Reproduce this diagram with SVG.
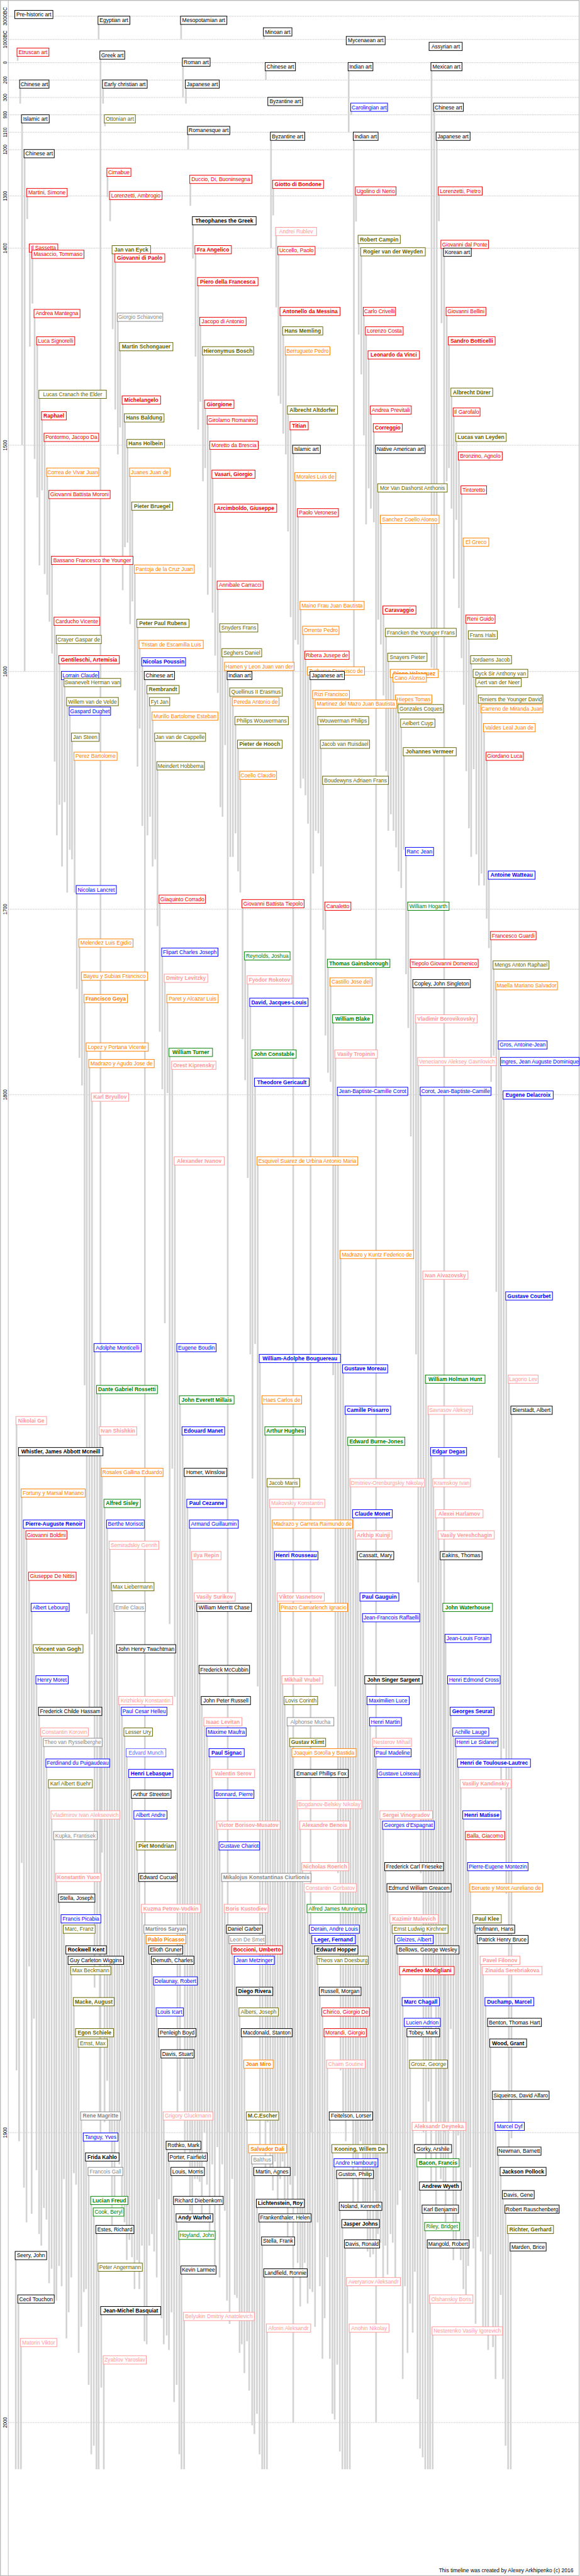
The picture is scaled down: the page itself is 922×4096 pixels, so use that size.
<svg xmlns="http://www.w3.org/2000/svg" width="922" height="4096" viewBox="0 0 922 4096">
<style>
#nodes{color:#000}
#nodes rect{fill:#fff;stroke:currentColor;stroke-width:1.5}
#nodes text{font-family:"Liberation Sans",Arial,sans-serif;font-size:13px;text-anchor:middle;fill:currentColor}
#nodes .B text{font-weight:700}
.r{color:#e00}.o{color:#666600}.b{color:#00f}.a{color:#ff8000}.p{color:#f99}.g{color:#888}.e{color:#008000}.m{color:#66f}
.ax{font-family:"Liberation Sans",Arial,sans-serif;font-size:15px;text-anchor:middle;fill:#000}
.ft{font-family:"Liberation Sans",Arial,sans-serif;font-size:13px;text-anchor:end;fill:#000}
</style>
<rect width="922" height="4096" fill="#fff"/>
<g transform="scale(0.65855)">
<rect x="1" y="1" width="1397" height="6218" fill="none" stroke="#bbb" stroke-width="2"/>
<path d="M20 0V6220" stroke="#bbb" stroke-width="1.5"/>
<g id="grid">
<path d="M20 39.3H1397M20 95.3H1397M20 151.3H1397M20 193.3H1397M20 235.3H1397M20 277.3H1397M20 319.3H1397M20 361.3H1397M20 473.3H1397M20 599.3H1397M20 1075H1397M20 1621.3H1397M20 2195.3H1397M20 2643.3H1397M20 5149.3H1397M20 5849.3H1397" stroke="#999" stroke-width="1" stroke-dasharray="2 2" fill="none"/>
<text class="ax" transform="translate(16 39.3) rotate(-90)" textLength="45" lengthAdjust="spacingAndGlyphs">3000BC</text>
<text class="ax" transform="translate(16 95.3) rotate(-90)" textLength="43" lengthAdjust="spacingAndGlyphs">1000BC</text>
<text class="ax" transform="translate(16 151.3) rotate(-90)" textLength="6" lengthAdjust="spacingAndGlyphs">0</text>
<text class="ax" transform="translate(16 193.3) rotate(-90)" textLength="18" lengthAdjust="spacingAndGlyphs">200</text>
<text class="ax" transform="translate(16 235.3) rotate(-90)" textLength="18" lengthAdjust="spacingAndGlyphs">300</text>
<text class="ax" transform="translate(16 277.3) rotate(-90)" textLength="18" lengthAdjust="spacingAndGlyphs">900</text>
<text class="ax" transform="translate(16 319.3) rotate(-90)" textLength="24" lengthAdjust="spacingAndGlyphs">1100</text>
<text class="ax" transform="translate(16 361.3) rotate(-90)" textLength="24" lengthAdjust="spacingAndGlyphs">1200</text>
<text class="ax" transform="translate(16 473.3) rotate(-90)" textLength="24" lengthAdjust="spacingAndGlyphs">1300</text>
<text class="ax" transform="translate(16 599.3) rotate(-90)" textLength="25" lengthAdjust="spacingAndGlyphs">1400</text>
<text class="ax" transform="translate(16 1075) rotate(-90)" textLength="26" lengthAdjust="spacingAndGlyphs">1500</text>
<text class="ax" transform="translate(16 1621.3) rotate(-90)" textLength="26" lengthAdjust="spacingAndGlyphs">1600</text>
<text class="ax" transform="translate(16 2195.3) rotate(-90)" textLength="26" lengthAdjust="spacingAndGlyphs">1700</text>
<text class="ax" transform="translate(16 2643.3) rotate(-90)" textLength="26" lengthAdjust="spacingAndGlyphs">1800</text>
<text class="ax" transform="translate(16 5149.3) rotate(-90)" textLength="26" lengthAdjust="spacingAndGlyphs">1900</text>
<text class="ax" transform="translate(16 5849.3) rotate(-90)" textLength="26" lengthAdjust="spacingAndGlyphs">2000</text>
</g>
<g id="lifespans">
<path fill="none" stroke="#d3d3d3" stroke-width="4" d="M238.1 39V95M437.2 39V95M637.2 67V95M1037.3 102V123M42.6 116V147M242.6 123V5149M441.7 140V235M641.7 151V193M841.7 151V319M1041.7 151V1612M48.8 193V250M248.8 193V250M448.8 193V250M848 249V277M1048 249V1615M53.3 277V1075M253.3 277V305M454.2 305V361M654.2 319V599M854.2 319V1621M1054.2 319V1617M59.5 361V1621M259.5 406V476M459.5 423V497M659.5 435V520M65.8 455V529M859.5 451V535M1059.5 451V534M265.8 462V534M465.8 523V624M666.7 549V742M865.8 568V808M1065.8 580V780M72 589V837M272 593V795M472 593V861M672.1 595V956M872.1 598V904M1072.1 599V5149M78.3 604V733M278.3 613V989M478.3 670V1037M677.4 742V975M878.3 742V1051M1078.3 742V1162M83.6 747V1108M284.5 756V1097M483.6 766V970M683.7 789V1047M883.7 789V1266M89.9 813V1201M1083.7 813V1130M289.9 827V1032M489.9 837V1162M689.9 837V1097M889.9 847V1179M1089.9 937V1228M95.3 942V1365M296.2 956V1425M495.3 966V1130M695.3 980V1283M895.3 980V1228M1095.3 985V1397M101.5 994V1184M301.5 999V1321M501.5 1004V1436M701.5 1018V1490M902.5 1023V1261M1101.5 1046V1255M107.8 1046V1386M307.8 1061V1310M507.8 1065V1370M707.8 1075V5849M907.8 1075V5849M1107.8 1091V1468M114 1130V1436M314 1130V1507M513.1 1135V1479M713.1 1141V1545M913.1 1168V1496M1114.1 1173V1589M119.4 1184V1501M319.4 1212V1452M519.4 1217V1583M719.4 1228V1556M919.4 1244V1556M1119.4 1299V1702M125.6 1343V1578M325.6 1364V1667M525.6 1403V1673M725.6 1452V1903M925.6 1463V1679M1125.6 1485V1862M131.9 1490V1839M331.9 1495V1851M531.9 1506V1949M731.9 1512V1880M931.9 1517V1862M1131.9 1523V2000M137.2 1534V2017M337.2 1546V1759M537.2 1566V1972M737.3 1572V1920M937.3 1577V2006M1137.3 1583V2069M143.5 1583V1943M343.5 1588V1994M543.5 1599V1799M743.5 1610V1989M943.5 1616V1966M1143.5 1616V1857M149.7 1621V2092M349.7 1621V5149M549.7 1621V5149M749.8 1621V5149M949.8 1627V2006M1149.8 1638V2063M156 1638V1937M356 1655V2017M556 1661V2069M756 1667V2109M956 1678V2046M1156 1678V2138M162.2 1684V2155M362.2 1684V1972M562.2 1684V2069M762.2 1690V2006M962.2 1701V2104M1162.2 1701V2109M168.5 1707V2052M368.5 1719V2092M568.5 1730V2012M768.5 1730V2012M968.5 1736V2144M1168.5 1747V2138M173.8 1770V2075M374.7 1770V2075M574.7 1787V2104M774.7 1787V2092M974.8 1805V2052M180.1 1816V2155M1174.8 1816V2218M380.1 1839V2236M580.1 1862V2155M780.1 1874V2245M980.1 2046V2352M1180.1 2103V2289M185.4 2138V2388M385.5 2161V2491M585.5 2172V2509M785.5 2178V2500M985.5 2178V2482M1185.5 2249V2612M191.7 2267V2554M391.7 2289V2630M591.7 2298V2608M791.7 2316V2590M991.7 2316V2744M1191.7 2320V2549M197.9 2347V2621M397.9 2352V3195M598 2356V2844M798 2361V2612M998 2365V3019M1198 2370V3119M204.2 2401V3345M404.2 2401V2639M604.2 2410V3270M804.2 2450V3320M1004.2 2450V3270M1204.2 2513V3520M209.5 2518V3896M409.5 2531V3921M609.5 2535V3570M809.6 2535V4072M1009.6 2553V3821M1209.6 2553V4322M215.8 2558V4122M415.8 2562V3546M615.8 2603V3245M815.8 2625V4523M1015.8 2625V4523M1215.8 2634V4222M222 2639V3946M422 2793V4097M622.1 2793V4072M822.1 3019V4999M1022.1 3069V5149M1222.1 3119V4573M228.3 3244V4799M428.3 3244V5099M627.4 3270V5184M828.3 3295V5099M1028.3 3320V5219M1228.4 3320V5184M234.5 3345V4698M434.5 3370V5049M633.7 3370V5099M834.6 3395V5170M1034.6 3395V5074M1234.6 3395V5163M39.9 3420V4999M240.8 3445V5099M440.8 3445V4723M640.8 3445V5254M840.8 3470V5099M46.1 3495V5170M1040.8 3495V5268M246.1 3545V4473M446.2 3545V5219M646.2 3570V5124M846.2 3570V5099M1046.2 3570V4824M52.4 3595V4498M252.4 3620V5124M452.4 3620V5191M652.4 3620V5254M852.5 3645V5331M1052.5 3645V5324M57.8 3670V5282M258.7 3670V5024M458.7 3670V5338M658.7 3670V5289M858.7 3696V5219M1058.7 3696V5177M64 3696V5366M264.9 3721V5163M464 3746V5359M664 3746V5219M864 3746V5331M1064.1 3746V5261M70.3 3796V4748M270.3 3821V5394M470.3 3846V5261M670.3 3846V5331M870.3 3846V5170M76.5 3871V5345M276.5 3871V5317M476.5 3871V5261M676.5 3871V5261M1070.3 3871V5268M876.5 3896V5317M1075.6 3946V5366M81.9 3971V4874M282.8 3971V5163M481.9 4021V5268M88.1 4046V5240M681.9 4046V5219M881.9 4046V5324M1081.9 4046V5219M288.1 4096V5226M487.2 4096V5359M687.2 4096V5324M887.3 4096V5436M94.4 4122V5394M294.4 4122V5338M1088.2 4122V4899M493.5 4147V5149M694.4 4147V5422M893.5 4147V5450M99.7 4172V5422M300.6 4172V5366M499.7 4172V5275M1094.4 4172V5457M106 4197V5331M700.6 4197V5275M900.7 4197V5443M1100.7 4197V5422M306 4222V5457M506 4222V5394M706 4222V5310M906 4222V5289M112.2 4247V5359M1106 4247V5156M312.2 4272V5408M512.2 4272V5226M712.2 4272V5254M912.2 4272V5394M118.5 4297V5513M1112.2 4297V5457M318.5 4322V5450M518.5 4322V5478M718.5 4347V5464M124.7 4372V5478M324.7 4372V5527M918.5 4372V5415M1118.5 4372V5527M524.7 4397V5184M724.7 4397V5569M924.8 4397V5499M131 4422V5548M1124.8 4422V5555M331 4447V5457M530.1 4447V5499M730.1 4497V5478M930.1 4497V5422M1130.1 4497V5471M136.3 4523V5555M336.3 4523V5527M536.3 4523V5226M735.5 4548V5464M935.5 4548V5492M1135.5 4548V5233M142.6 4573V5471M342.6 4598V5422M542.6 4598V5338M742.6 4598V5562M148.8 4623V5520M942.6 4623V5394M1142.6 4623V5429M154.2 4648V5261M348.8 4648V5653M548 4648V5555M748 4648V5527M948 4648V5415M1148 4648V5611M354.2 4673V5660M554.2 4673V5611M754.2 4673V5534M954.2 4673V5520M1153.4 4673V5401M160.4 4698V5646M360.4 4698V5422M560.5 4698V5261M760.5 4698V5618M959.6 4698V5324M165.8 4723V5583M366.7 4723V5394M566.7 4723V5541M766.7 4723V5366M1160.5 4723V5436M172 4748V5499M965.8 4748V5289M1165.9 4748V5618M372.1 4773V5436M572.1 4798V5548M772.1 4798V5520M178.3 4823V5247M972.1 4823V5744M1172.1 4823V5625M378.3 4848V5499M578.3 4848V5681M778.3 4848V5695M977.5 4873V5520M1178.4 4873V5674M183.7 4898V5275M383.7 4898V5310M583.7 4898V5660M783.7 4898V5597M983.7 4898V5681M189.9 4923V5681M1183.7 4923V5443M389.9 4949V5597M589.9 4974V5730M789.9 4974V5450M989.9 4974V5562M1190 5049V5667M196.1 5099V5618M395.3 5099V5660M596.2 5099V5653M796.2 5099V5695M996.2 5124V5632M1196.2 5124V5744M202.4 5150V5534M402.4 5170V5639M601.5 5178V5772M802.4 5178V5828M1001.5 5178V5485M1202.5 5184V5639M207.8 5198V5527M407.8 5198V5674M608.7 5205V5856M807.8 5212V5842M1007.8 5212V5793M214 5233V5758M414 5233V5583M614 5233V5877M1208.7 5233V5541M814 5240V5709M1014 5268V5912M1214 5289V5744M220.3 5303V5926M420.3 5303V5800M620.3 5310V5828M820.3 5317V5919M1020.3 5324V5933M1220.3 5324V5905M226.5 5331V5905M426.5 5345V5758M626.5 5345V5926M826.5 5359V5962M1026.5 5366V5962M1226.5 5373V5962M232.8 5373V5962M432.8 5387V5926M632.8 5401V5962M832.8 5408V5962M1032.8 5408V5962M1232.8 5415V5962M38.1 5436V5962M238.1 5464V5962M438.1 5471V5962M638.1 5478V5962M838.1 5499V5962M1038.1 5541V5962M44.4 5541V5962M244.4 5569V5765M444.4 5583V5962M644.4 5611V5962M844.4 5611V5962M1044.4 5618V5962M50.6 5646V5962M250.6 5688V5962"/>
</g>
<g id="nodes">
<g id="n1" transform="translate(35.7 25)"><rect width="92" height="20"/><text x="46" y="14.5">Pre-historic art</text></g>
<g id="n2" transform="translate(236.6 39)"><rect width="77" height="20"/><text x="38.5" y="14.5">Egyptian art</text></g>
<g id="n3" transform="translate(435.7 39)"><rect width="112" height="20"/><text x="56" y="14.5">Mesopotamian art</text></g>
<g id="n4" transform="translate(635.7 67)"><rect width="69" height="20"/><text x="34.5" y="14.5">Minoan art</text></g>
<g id="n5" transform="translate(835.7 88)"><rect width="94" height="20"/><text x="47" y="14.5">Mycenaean art</text></g>
<g id="n6" transform="translate(1035.8 102)"><rect width="80" height="20"/><text x="40" y="14.5">Assyrian art</text></g>
<g id="n7" class="r" transform="translate(41.1 116)"><rect width="77" height="20"/><text x="38.5" y="14.5">Etruscan art</text></g>
<g id="n8" transform="translate(241.1 123)"><rect width="60" height="20"/><text x="30" y="14.5">Greek art</text></g>
<g id="n9" transform="translate(440.2 140)"><rect width="67" height="20"/><text x="33.5" y="14.5">Roman art</text></g>
<g id="n10" transform="translate(640.2 151)"><rect width="73" height="20"/><text x="36.5" y="14.5">Chinese art</text></g>
<g id="n11" transform="translate(840.2 151)"><rect width="60" height="20"/><text x="30" y="14.5">Indian art</text></g>
<g id="n12" transform="translate(1040.2 151)"><rect width="75" height="20"/><text x="37.5" y="14.5">Mexican art</text></g>
<g id="n13" transform="translate(47.3 193)"><rect width="71" height="20"/><text x="35.5" y="14.5">Chinese art</text></g>
<g id="n14" transform="translate(247.3 193)"><rect width="108" height="20"/><text x="54" y="14.5">Early christian art</text></g>
<g id="n15" transform="translate(447.3 193)"><rect width="82" height="20"/><text x="41" y="14.5">Japanese art</text></g>
<g id="n16" transform="translate(646.5 235)"><rect width="84" height="20"/><text x="42" y="14.5">Byzantine art</text></g>
<g id="n17" class="b" transform="translate(846.5 249)"><rect width="89" height="20"/><text x="44.5" y="14.5">Carolingian art</text></g>
<g id="n18" transform="translate(1046.5 249)"><rect width="72" height="20"/><text x="36" y="14.5">Chinese art</text></g>
<g id="n19" transform="translate(51.8 277)"><rect width="67" height="20"/><text x="33.5" y="14.5">Islamic art</text></g>
<g id="n20" class="o" transform="translate(251.8 277)"><rect width="75" height="20"/><text x="37.5" y="14.5">Ottonian art</text></g>
<g id="n21" transform="translate(452.7 305)"><rect width="102" height="20"/><text x="51" y="14.5">Romanesque art</text></g>
<g id="n22" transform="translate(652.7 319)"><rect width="83" height="20"/><text x="41.5" y="14.5">Byzantine art</text></g>
<g id="n23" transform="translate(852.7 319)"><rect width="60" height="20"/><text x="30" y="14.5">Indian art</text></g>
<g id="n24" transform="translate(1052.7 319)"><rect width="82" height="20"/><text x="41" y="14.5">Japanese art</text></g>
<g id="n25" transform="translate(58 361)"><rect width="73" height="20"/><text x="36.5" y="14.5">Chinese art</text></g>
<g id="n26" class="r" transform="translate(258 406)"><rect width="58" height="20"/><text x="29" y="14.5">Cimabue</text></g>
<g id="n27" class="r" transform="translate(458 423)"><rect width="150" height="20"/><text x="75" y="14.5">Duccio, Di, Buoninsegna</text></g>
<g id="n28" class="r B" transform="translate(658 435)"><rect width="123" height="20"/><text x="61.5" y="14.5">Giotto di Bondone</text></g>
<g id="n29" class="r" transform="translate(858 451)"><rect width="98" height="20"/><text x="49" y="14.5">Ugolino di Nerio</text></g>
<g id="n30" class="r" transform="translate(1058 451)"><rect width="106" height="20"/><text x="53" y="14.5">Lorenzetti, Pietro</text></g>
<g id="n31" class="r" transform="translate(64.3 455)"><rect width="98" height="20"/><text x="49" y="14.5">Martini, Simone</text></g>
<g id="n32" class="r" transform="translate(264.3 462)"><rect width="127" height="20"/><text x="63.5" y="14.5">Lorenzetti, Ambrogio</text></g>
<g id="n33" class="B" transform="translate(464.3 523)"><rect width="154" height="20"/><text x="77" y="14.5">Theophanes the Greek</text></g>
<g id="n34" class="p" transform="translate(665.2 549)"><rect width="99" height="20"/><text x="49.5" y="14.5">Andrei Rublev</text></g>
<g id="n35" class="o B" transform="translate(864.3 568)"><rect width="102" height="20"/><text x="51" y="14.5">Robert Campin</text></g>
<g id="n36" class="r" transform="translate(1064.3 580)"><rect width="115" height="20"/><text x="57.5" y="14.5">Giovanni dal Ponte</text></g>
<g id="n37" class="r" transform="translate(70.5 589)"><rect width="69" height="20"/><text x="34.5" y="14.5">Il Sassetta</text></g>
<g id="n38" class="o B" transform="translate(270.5 593)"><rect width="93" height="20"/><text x="46.5" y="14.5">Jan van Eyck</text></g>
<g id="n39" class="r B" transform="translate(470.5 593)"><rect width="88" height="20"/><text x="44" y="14.5">Fra Angelico</text></g>
<g id="n40" class="r" transform="translate(670.6 595)"><rect width="90" height="20"/><text x="45" y="14.5">Uccello, Paolo</text></g>
<g id="n41" class="o B" transform="translate(870.6 598)"><rect width="156" height="20"/><text x="78" y="14.5">Rogier van der Weyden</text></g>
<g id="n42" transform="translate(1070.6 599)"><rect width="67" height="20"/><text x="33.5" y="14.5">Korean art</text></g>
<g id="n43" class="r" transform="translate(76.8 604)"><rect width="126" height="20"/><text x="63" y="14.5">Masaccio, Tommaso</text></g>
<g id="n44" class="r B" transform="translate(276.8 613)"><rect width="121" height="20"/><text x="60.5" y="14.5">Giovanni di Paolo</text></g>
<g id="n45" class="r B" transform="translate(476.8 670)"><rect width="146" height="20"/><text x="73" y="14.5">Piero della Francesca</text></g>
<g id="n46" class="r B" transform="translate(675.9 742)"><rect width="145" height="20"/><text x="72.5" y="14.5">Antonello da Messina</text></g>
<g id="n47" class="r" transform="translate(876.8 742)"><rect width="78" height="20"/><text x="39" y="14.5">Carlo Crivelli</text></g>
<g id="n48" class="r" transform="translate(1076.8 742)"><rect width="96" height="20"/><text x="48" y="14.5">Giovanni Bellini</text></g>
<g id="n49" class="r" transform="translate(82.1 747)"><rect width="111" height="20"/><text x="55.5" y="14.5">Andrea Mantegna</text></g>
<g id="n50" class="g" transform="translate(283 756)"><rect width="110" height="20"/><text x="55" y="14.5">Giorgio Schiavone</text></g>
<g id="n51" class="r" transform="translate(482.1 766)"><rect width="112" height="20"/><text x="56" y="14.5">Jacopo di Antonio</text></g>
<g id="n52" class="o B" transform="translate(682.2 789)"><rect width="97" height="20"/><text x="48.5" y="14.5">Hans Memling</text></g>
<g id="n53" class="r" transform="translate(882.2 789)"><rect width="91" height="20"/><text x="45.5" y="14.5">Lorenzo Costa</text></g>
<g id="n54" class="r" transform="translate(88.4 813)"><rect width="92" height="20"/><text x="46" y="14.5">Luca Signorelli</text></g>
<g id="n55" class="r B" transform="translate(1082.2 813)"><rect width="113" height="20"/><text x="56.5" y="14.5">Sandro Botticelli</text></g>
<g id="n56" class="o B" transform="translate(288.4 827)"><rect width="129" height="20"/><text x="64.5" y="14.5">Martin Schongauer</text></g>
<g id="n57" class="o B" transform="translate(488.4 837)"><rect width="124" height="20"/><text x="62" y="14.5">Hieronymus Bosch</text></g>
<g id="n58" class="a" transform="translate(688.4 837)"><rect width="108" height="20"/><text x="54" y="14.5">Berruguete Pedro</text></g>
<g id="n59" class="r B" transform="translate(888.4 847)"><rect width="124" height="20"/><text x="62" y="14.5">Leonardo da Vinci</text></g>
<g id="n60" class="o B" transform="translate(1088.4 937)"><rect width="101" height="20"/><text x="50.5" y="14.5">Albrecht Dürer</text></g>
<g id="n61" class="o" transform="translate(93.8 942)"><rect width="163" height="20"/><text x="81.5" y="14.5">Lucas Cranach the Elder</text></g>
<g id="n62" class="r B" transform="translate(294.7 956)"><rect width="93" height="20"/><text x="46.5" y="14.5">Michelangelo</text></g>
<g id="n63" class="r B" transform="translate(493.8 966)"><rect width="71" height="20"/><text x="35.5" y="14.5">Giorgione</text></g>
<g id="n64" class="o B" transform="translate(693.8 980)"><rect width="121" height="20"/><text x="60.5" y="14.5">Albrecht Altdorfer</text></g>
<g id="n65" class="r" transform="translate(893.8 980)"><rect width="99" height="20"/><text x="49.5" y="14.5">Andrea Previtali</text></g>
<g id="n66" class="r" transform="translate(1093.8 985)"><rect width="65" height="20"/><text x="32.5" y="14.5">Il Garofalo</text></g>
<g id="n67" class="r B" transform="translate(100 994)"><rect width="60" height="20"/><text x="30" y="14.5">Raphael</text></g>
<g id="n68" class="o B" transform="translate(300 999)"><rect width="96" height="20"/><text x="48" y="14.5">Hans Baldung</text></g>
<g id="n69" class="r" transform="translate(500 1004)"><rect width="121" height="20"/><text x="60.5" y="14.5">Girolamo Romanino</text></g>
<g id="n70" class="r B" transform="translate(700 1018)"><rect width="44" height="20"/><text x="22" y="14.5">Titian</text></g>
<g id="n71" class="r B" transform="translate(901 1023)"><rect width="70" height="20"/><text x="35" y="14.5">Correggio</text></g>
<g id="n72" class="o B" transform="translate(1100 1046)"><rect width="122" height="20"/><text x="61" y="14.5">Lucas van Leyden</text></g>
<g id="n73" class="r" transform="translate(106.3 1046)"><rect width="132" height="20"/><text x="66" y="14.5">Pontormo, Jacopo Da</text></g>
<g id="n74" class="o B" transform="translate(306.3 1061)"><rect width="91" height="20"/><text x="45.5" y="14.5">Hans Holbein</text></g>
<g id="n75" class="r" transform="translate(506.3 1065)"><rect width="117" height="20"/><text x="58.5" y="14.5">Moretto da Brescia</text></g>
<g id="n76" transform="translate(706.3 1075)"><rect width="67" height="20"/><text x="33.5" y="14.5">Islamic art</text></g>
<g id="n77" transform="translate(906.3 1075)"><rect width="120" height="20"/><text x="60" y="14.5">Native American art</text></g>
<g id="n78" class="r" transform="translate(1106.3 1091)"><rect width="106" height="20"/><text x="53" y="14.5">Bronzino, Agnolo</text></g>
<g id="n79" class="a" transform="translate(112.5 1130)"><rect width="126" height="20"/><text x="63" y="14.5">Correa de Vivar Juan</text></g>
<g id="n80" class="a" transform="translate(312.5 1130)"><rect width="98" height="20"/><text x="49" y="14.5">Juanes Juan de</text></g>
<g id="n81" class="r B" transform="translate(511.6 1135)"><rect width="104" height="20"/><text x="52" y="14.5">Vasari, Giorgio</text></g>
<g id="n82" class="a" transform="translate(711.6 1141)"><rect width="99" height="20"/><text x="49.5" y="14.5">Morales Luis de</text></g>
<g id="n83" class="o" transform="translate(911.6 1168)"><rect width="168" height="20"/><text x="84" y="14.5">Mor Van Dashorst Anthonis</text></g>
<g id="n84" class="r" transform="translate(1112.6 1173)"><rect width="62" height="20"/><text x="31" y="14.5">Tintoretto</text></g>
<g id="n85" class="r" transform="translate(117.9 1184)"><rect width="148" height="20"/><text x="74" y="14.5">Giovanni Battista Moroni</text></g>
<g id="n86" class="o B" transform="translate(317.9 1212)"><rect width="99" height="20"/><text x="49.5" y="14.5">Pieter Bruegel</text></g>
<g id="n87" class="r B" transform="translate(517.9 1217)"><rect width="150" height="20"/><text x="75" y="14.5">Arcimboldo, Giuseppe</text></g>
<g id="n88" class="r" transform="translate(717.9 1228)"><rect width="99" height="20"/><text x="49.5" y="14.5">Paolo Veronese</text></g>
<g id="n89" class="a" transform="translate(917.9 1244)"><rect width="142" height="20"/><text x="71" y="14.5">Sanchez Coello Alonso</text></g>
<g id="n90" class="a" transform="translate(1117.9 1299)"><rect width="62" height="20"/><text x="31" y="14.5">El Greco</text></g>
<g id="n91" class="r" transform="translate(124.1 1343)"><rect width="197" height="20"/><text x="98.5" y="14.5">Bassano Francesco the Younger</text></g>
<g id="n92" class="a" transform="translate(324.1 1364)"><rect width="145" height="20"/><text x="72.5" y="14.5">Pantoja de la Cruz Juan</text></g>
<g id="n93" class="r" transform="translate(524.1 1403)"><rect width="111" height="20"/><text x="55.5" y="14.5">Annibale Carracci</text></g>
<g id="n94" class="a" transform="translate(724.1 1452)"><rect width="155" height="20"/><text x="77.5" y="14.5">Maino Frau Juan Bautista</text></g>
<g id="n95" class="r B" transform="translate(924.1 1463)"><rect width="80" height="20"/><text x="40" y="14.5">Caravaggio</text></g>
<g id="n96" class="r" transform="translate(1124.1 1485)"><rect width="71" height="20"/><text x="35.5" y="14.5">Reni Guido</text></g>
<g id="n97" class="r" transform="translate(130.4 1490)"><rect width="110" height="20"/><text x="55" y="14.5">Carducho Vicente</text></g>
<g id="n98" class="o B" transform="translate(330.4 1495)"><rect width="126" height="20"/><text x="63" y="14.5">Peter Paul Rubens</text></g>
<g id="n99" class="o" transform="translate(530.4 1506)"><rect width="92" height="20"/><text x="46" y="14.5">Snyders Frans</text></g>
<g id="n100" class="a" transform="translate(730.4 1512)"><rect width="88" height="20"/><text x="44" y="14.5">Orrente Pedro</text></g>
<g id="n101" class="o" transform="translate(930.4 1517)"><rect width="171" height="20"/><text x="85.5" y="14.5">Francken the Younger Frans</text></g>
<g id="n102" class="o" transform="translate(1130.4 1523)"><rect width="70" height="20"/><text x="35" y="14.5">Frans Hals</text></g>
<g id="n103" class="o" transform="translate(135.7 1534)"><rect width="109" height="20"/><text x="54.5" y="14.5">Crayer Gaspar de</text></g>
<g id="n104" class="a" transform="translate(335.7 1546)"><rect width="155" height="20"/><text x="77.5" y="14.5">Tristan de Escamilla Luis</text></g>
<g id="n105" class="o" transform="translate(535.7 1566)"><rect width="96" height="20"/><text x="48" y="14.5">Seghers Daniel</text></g>
<g id="n106" class="r" transform="translate(735.8 1572)"><rect width="107" height="20"/><text x="53.5" y="14.5">Ribera Jusepe de</text></g>
<g id="n107" class="o" transform="translate(935.8 1577)"><rect width="95" height="20"/><text x="47.5" y="14.5">Snayers Pieter</text></g>
<g id="n108" class="o" transform="translate(1135.8 1583)"><rect width="99" height="20"/><text x="49.5" y="14.5">Jordaens Jacob</text></g>
<g id="n109" class="r B" transform="translate(142 1583)"><rect width="146" height="20"/><text x="73" y="14.5">Gentileschi, Artemisia</text></g>
<g id="n110" class="b B" transform="translate(342 1588)"><rect width="106" height="20"/><text x="53" y="14.5">Nicolas Poussin</text></g>
<g id="n111" class="a" transform="translate(542 1599)"><rect width="168" height="20"/><text x="84" y="14.5">Hamen y Leon Juan van der</text></g>
<g id="n112" class="a" transform="translate(742 1610)"><rect width="138" height="20"/><text x="69" y="14.5">Zurbaran Francisco de</text></g>
<g id="n113" class="a B" transform="translate(942 1616)"><rect width="116" height="20"/><text x="58" y="14.5">Diego Velazquez</text></g>
<g id="n114" class="o" transform="translate(1142 1616)"><rect width="132" height="20"/><text x="66" y="14.5">Dyck Sir Anthony van</text></g>
<g id="n115" class="b" transform="translate(148.2 1621)"><rect width="90" height="20"/><text x="45" y="14.5">Lorrain Claude</text></g>
<g id="n116" transform="translate(348.2 1621)"><rect width="73" height="20"/><text x="36.5" y="14.5">Chinese art</text></g>
<g id="n117" transform="translate(548.2 1621)"><rect width="60" height="20"/><text x="30" y="14.5">Indian art</text></g>
<g id="n118" transform="translate(748.3 1621)"><rect width="83" height="20"/><text x="41.5" y="14.5">Japanese art</text></g>
<g id="n119" class="a" transform="translate(948.3 1627)"><rect width="81" height="20"/><text x="40.5" y="14.5">Cano Alonso</text></g>
<g id="n120" class="o" transform="translate(1148.3 1638)"><rect width="110" height="20"/><text x="55" y="14.5">Aert van der Neer</text></g>
<g id="n121" class="o" transform="translate(154.5 1638)"><rect width="137" height="20"/><text x="68.5" y="14.5">Swanevelt Herman van</text></g>
<g id="n122" class="o B" transform="translate(354.5 1655)"><rect width="78" height="20"/><text x="39" y="14.5">Rembrandt</text></g>
<g id="n123" class="o" transform="translate(554.5 1661)"><rect width="127" height="20"/><text x="63.5" y="14.5">Quellinus II Erasmus</text></g>
<g id="n124" class="a" transform="translate(754.5 1667)"><rect width="89" height="20"/><text x="44.5" y="14.5">Rizi Francisco</text></g>
<g id="n125" class="a" transform="translate(954.5 1678)"><rect width="88" height="20"/><text x="44" y="14.5">Hiepes Tomas</text></g>
<g id="n126" class="o" transform="translate(1154.5 1678)"><rect width="156" height="20"/><text x="78" y="14.5">Teniers the Younger David</text></g>
<g id="n127" class="o" transform="translate(160.7 1684)"><rect width="125" height="20"/><text x="62.5" y="14.5">Willem van de Velde</text></g>
<g id="n128" class="o" transform="translate(360.7 1684)"><rect width="49" height="20"/><text x="24.5" y="14.5">Fyt Jan</text></g>
<g id="n129" class="a" transform="translate(560.7 1684)"><rect width="113" height="20"/><text x="56.5" y="14.5">Pereda Antonio de</text></g>
<g id="n130" class="a" transform="translate(760.7 1690)"><rect width="197" height="20"/><text x="98.5" y="14.5">Martinez del Mazo Juan Bautista</text></g>
<g id="n131" class="o" transform="translate(960.7 1701)"><rect width="110" height="20"/><text x="55" y="14.5">Gonzales Coques</text></g>
<g id="n132" class="a" transform="translate(1160.7 1701)"><rect width="150" height="20"/><text x="75" y="14.5">Carreno de Miranda Juan</text></g>
<g id="n133" class="b" transform="translate(167 1707)"><rect width="100" height="20"/><text x="50" y="14.5">Gaspard Dughet</text></g>
<g id="n134" class="a" transform="translate(367 1719)"><rect width="159" height="20"/><text x="79.5" y="14.5">Murillo Bartolome Esteban</text></g>
<g id="n135" class="o" transform="translate(567 1730)"><rect width="129" height="20"/><text x="64.5" y="14.5">Philips Wouwermans</text></g>
<g id="n136" class="o" transform="translate(767 1730)"><rect width="123" height="20"/><text x="61.5" y="14.5">Wouwerman Philips</text></g>
<g id="n137" class="o" transform="translate(967 1736)"><rect width="83" height="20"/><text x="41.5" y="14.5">Aelbert Cuyp</text></g>
<g id="n138" class="a" transform="translate(1167 1747)"><rect width="125" height="20"/><text x="62.5" y="14.5">Valdes Leal Juan de</text></g>
<g id="n139" class="o" transform="translate(172.3 1770)"><rect width="67" height="20"/><text x="33.5" y="14.5">Jan Steen</text></g>
<g id="n140" class="o" transform="translate(373.2 1770)"><rect width="123" height="20"/><text x="61.5" y="14.5">Jan van de Cappelle</text></g>
<g id="n141" class="o B" transform="translate(573.2 1787)"><rect width="108" height="20"/><text x="54" y="14.5">Pieter de Hooch</text></g>
<g id="n142" class="o" transform="translate(773.2 1787)"><rect width="119" height="20"/><text x="59.5" y="14.5">Jacob van Ruisdael</text></g>
<g id="n143" class="o B" transform="translate(973.3 1805)"><rect width="128" height="20"/><text x="64" y="14.5">Johannes Vermeer</text></g>
<g id="n144" class="a" transform="translate(178.6 1816)"><rect width="104" height="20"/><text x="52" y="14.5">Perez Bartolome</text></g>
<g id="n145" class="r" transform="translate(1173.3 1816)"><rect width="90" height="20"/><text x="45" y="14.5">Giordano Luca</text></g>
<g id="n146" class="o" transform="translate(378.6 1839)"><rect width="115" height="20"/><text x="57.5" y="14.5">Meindert Hobbema</text></g>
<g id="n147" class="a" transform="translate(578.6 1862)"><rect width="89" height="20"/><text x="44.5" y="14.5">Coello Claudio</text></g>
<g id="n148" class="o" transform="translate(778.6 1874)"><rect width="159" height="20"/><text x="79.5" y="14.5">Boudewyns Adriaen Frans</text></g>
<g id="n149" class="b" transform="translate(978.6 2046)"><rect width="68" height="20"/><text x="34" y="14.5">Ranc Jean</text></g>
<g id="n150" class="b B" transform="translate(1178.6 2103)"><rect width="113" height="20"/><text x="56.5" y="14.5">Antoine Watteau</text></g>
<g id="n151" class="b" transform="translate(183.9 2138)"><rect width="97" height="20"/><text x="48.5" y="14.5">Nicolas Lancret</text></g>
<g id="n152" class="r" transform="translate(384 2161)"><rect width="112" height="20"/><text x="56" y="14.5">Giaquinto Corrado</text></g>
<g id="n153" class="r" transform="translate(584 2172)"><rect width="150" height="20"/><text x="75" y="14.5">Giovanni Battista Tiepolo</text></g>
<g id="n154" class="r" transform="translate(784 2178)"><rect width="63" height="20"/><text x="31.5" y="14.5">Canaletto</text></g>
<g id="n155" class="e" transform="translate(984 2178)"><rect width="100" height="20"/><text x="50" y="14.5">William Hogarth</text></g>
<g id="n156" class="r" transform="translate(1184 2249)"><rect width="110" height="20"/><text x="55" y="14.5">Francesco Guardi</text></g>
<g id="n157" class="a" transform="translate(190.2 2267)"><rect width="131" height="20"/><text x="65.5" y="14.5">Melendez Luis Egidio</text></g>
<g id="n158" class="b" transform="translate(390.2 2289)"><rect width="136" height="20"/><text x="68" y="14.5">Flipart Charles Joseph</text></g>
<g id="n159" class="e" transform="translate(590.2 2298)"><rect width="110" height="20"/><text x="55" y="14.5">Reynolds, Joshua</text></g>
<g id="n160" class="e B" transform="translate(790.2 2316)"><rect width="151" height="20"/><text x="75.5" y="14.5">Thomas Gainsborough</text></g>
<g id="n161" class="r" transform="translate(990.2 2316)"><rect width="164" height="20"/><text x="82" y="14.5">Tiepolo Giovanni Domenico</text></g>
<g id="n162" class="o" transform="translate(1190.2 2320)"><rect width="135" height="20"/><text x="67.5" y="14.5">Mengs Anton Raphael</text></g>
<g id="n163" class="a" transform="translate(196.4 2347)"><rect width="160" height="20"/><text x="80" y="14.5">Bayeu y Subias Francisco</text></g>
<g id="n164" class="p B" transform="translate(396.4 2352)"><rect width="105" height="20"/><text x="52.5" y="14.5">Dmitry Levitzky</text></g>
<g id="n165" class="p B" transform="translate(596.5 2356)"><rect width="108" height="20"/><text x="54" y="14.5">Fyodor Rokotov</text></g>
<g id="n166" class="a" transform="translate(796.5 2361)"><rect width="102" height="20"/><text x="51" y="14.5">Castillo Jose del</text></g>
<g id="n167" transform="translate(996.5 2365)"><rect width="139" height="20"/><text x="69.5" y="14.5">Copley, John Singleton</text></g>
<g id="n168" class="a" transform="translate(1196.5 2370)"><rect width="149" height="20"/><text x="74.5" y="14.5">Maella Mariano Salvador</text></g>
<g id="n169" class="a B" transform="translate(202.7 2401)"><rect width="105" height="20"/><text x="52.5" y="14.5">Francisco Goya</text></g>
<g id="n170" class="a" transform="translate(402.7 2401)"><rect width="124" height="20"/><text x="62" y="14.5">Paret y Alcazar Luis</text></g>
<g id="n171" class="b B" transform="translate(602.7 2410)"><rect width="141" height="20"/><text x="70.5" y="14.5">David, Jacques-Louis</text></g>
<g id="n172" class="e B" transform="translate(802.7 2450)"><rect width="97" height="20"/><text x="48.5" y="14.5">William Blake</text></g>
<g id="n173" class="p B" transform="translate(1002.7 2450)"><rect width="149" height="20"/><text x="74.5" y="14.5">Vladimir Borovikovsky</text></g>
<g id="n174" class="b" transform="translate(1202.7 2513)"><rect width="118" height="20"/><text x="59" y="14.5">Gros, Antoine-Jean</text></g>
<g id="n175" class="a" transform="translate(208 2518)"><rect width="150" height="20"/><text x="75" y="14.5">Lopez y Portana Vicente</text></g>
<g id="n176" class="e B" transform="translate(408 2531)"><rect width="105" height="20"/><text x="52.5" y="14.5">William Turner</text></g>
<g id="n177" class="e B" transform="translate(608 2535)"><rect width="107" height="20"/><text x="53.5" y="14.5">John Constable</text></g>
<g id="n178" class="p B" transform="translate(808.1 2535)"><rect width="103" height="20"/><text x="51.5" y="14.5">Vasily Tropinin</text></g>
<g id="n179" class="p" transform="translate(1008.1 2553)"><rect width="190" height="20"/><text x="95" y="14.5">Venecianov Aleksey Gavrilovich</text></g>
<g id="n180" class="b" transform="translate(1208.1 2553)"><rect width="190" height="20"/><text x="95" y="14.5">Ingres, Jean Auguste Dominique</text></g>
<g id="n181" class="a" transform="translate(214.3 2558)"><rect width="158" height="20"/><text x="79" y="14.5">Madrazo y Agudo Jose de</text></g>
<g id="n182" class="p B" transform="translate(414.3 2562)"><rect width="107" height="20"/><text x="53.5" y="14.5">Orest Kiprensky</text></g>
<g id="n183" class="b B" transform="translate(614.3 2603)"><rect width="132" height="20"/><text x="66" y="14.5">Theodore Gericault</text></g>
<g id="n184" class="b" transform="translate(814.3 2625)"><rect width="170" height="20"/><text x="85" y="14.5">Jean-Baptiste-Camille Corot</text></g>
<g id="n185" class="b" transform="translate(1014.3 2625)"><rect width="171" height="20"/><text x="85.5" y="14.5">Corot, Jean-Baptiste-Camille</text></g>
<g id="n186" class="b B" transform="translate(1214.3 2634)"><rect width="121" height="20"/><text x="60.5" y="14.5">Eugene Delacroix</text></g>
<g id="n187" class="p B" transform="translate(220.5 2639)"><rect width="90" height="20"/><text x="45" y="14.5">Karl Bryullov</text></g>
<g id="n188" class="p B" transform="translate(420.5 2793)"><rect width="121" height="20"/><text x="60.5" y="14.5">Alexander Ivanov</text></g>
<g id="n189" class="a" transform="translate(620.6 2793)"><rect width="243" height="20"/><text x="121.5" y="14.5">Esquivel Suarez de Urbina Antonio Maria</text></g>
<g id="n190" class="a" transform="translate(820.6 3019)"><rect width="178" height="20"/><text x="89" y="14.5">Madrazo y Kuntz Federico de</text></g>
<g id="n191" class="p B" transform="translate(1020.6 3069)"><rect width="109" height="20"/><text x="54.5" y="14.5">Ivan Aivazovsky</text></g>
<g id="n192" class="b B" transform="translate(1220.6 3119)"><rect width="113" height="20"/><text x="56.5" y="14.5">Gustave Courbet</text></g>
<g id="n193" class="b" transform="translate(226.8 3244)"><rect width="114" height="20"/><text x="57" y="14.5">Adolphe Monticelli</text></g>
<g id="n194" class="b" transform="translate(426.8 3244)"><rect width="95" height="20"/><text x="47.5" y="14.5">Eugene Boudin</text></g>
<g id="n195" class="b B" transform="translate(625.9 3270)"><rect width="196" height="20"/><text x="98" y="14.5">William-Adolphe Bouguereau</text></g>
<g id="n196" class="b B" transform="translate(826.8 3295)"><rect width="109" height="20"/><text x="54.5" y="14.5">Gustave Moreau</text></g>
<g id="n197" class="e B" transform="translate(1026.8 3320)"><rect width="144" height="20"/><text x="72" y="14.5">William Holman Hunt</text></g>
<g id="n198" class="p" transform="translate(1226.9 3320)"><rect width="72" height="20"/><text x="36" y="14.5">Lagorio Lev</text></g>
<g id="n199" class="e B" transform="translate(233 3345)"><rect width="147" height="20"/><text x="73.5" y="14.5">Dante Gabriel Rossetti</text></g>
<g id="n200" class="e B" transform="translate(433 3370)"><rect width="132" height="20"/><text x="66" y="14.5">John Everett Millais</text></g>
<g id="n201" class="a" transform="translate(632.2 3370)"><rect width="96" height="20"/><text x="48" y="14.5">Haes Carlos de</text></g>
<g id="n202" class="b B" transform="translate(833.1 3395)"><rect width="110" height="20"/><text x="55" y="14.5">Camille Pissarro</text></g>
<g id="n203" class="p" transform="translate(1033.1 3395)"><rect width="108" height="20"/><text x="54" y="14.5">Savrasov Aleksey</text></g>
<g id="n204" transform="translate(1233.1 3395)"><rect width="100" height="20"/><text x="50" y="14.5">Bierstadt, Albert</text></g>
<g id="n205" class="p B" transform="translate(38.4 3420)"><rect width="74" height="20"/><text x="37" y="14.5">Nikolai Ge</text></g>
<g id="n206" class="p B" transform="translate(239.3 3445)"><rect width="91" height="20"/><text x="45.5" y="14.5">Ivan Shishkin</text></g>
<g id="n207" class="b B" transform="translate(439.3 3445)"><rect width="103" height="20"/><text x="51.5" y="14.5">Edouard Manet</text></g>
<g id="n208" class="e B" transform="translate(639.3 3445)"><rect width="98" height="20"/><text x="49" y="14.5">Arthur Hughes</text></g>
<g id="n209" class="e B" transform="translate(839.3 3470)"><rect width="138" height="20"/><text x="69" y="14.5">Edward Burne-Jones</text></g>
<g id="n210" class="B" transform="translate(44.6 3495)"><rect width="204" height="20"/><text x="102" y="14.5">Whistler, James Abbott Mcneill</text></g>
<g id="n211" class="b B" transform="translate(1039.3 3495)"><rect width="87" height="20"/><text x="43.5" y="14.5">Edgar Degas</text></g>
<g id="n212" class="a" transform="translate(244.6 3545)"><rect width="149" height="20"/><text x="74.5" y="14.5">Rosales Gallina Eduardo</text></g>
<g id="n213" transform="translate(444.7 3545)"><rect width="103" height="20"/><text x="51.5" y="14.5">Homer, Winslow</text></g>
<g id="n214" class="o" transform="translate(644.7 3570)"><rect width="79" height="20"/><text x="39.5" y="14.5">Jacob Maris</text></g>
<g id="n215" class="p" transform="translate(844.7 3570)"><rect width="180" height="20"/><text x="90" y="14.5">Dmitriev-Orenburgskiy Nikolay</text></g>
<g id="n216" class="p" transform="translate(1044.7 3570)"><rect width="91" height="20"/><text x="45.5" y="14.5">Kramskoy Ivan</text></g>
<g id="n217" class="a" transform="translate(50.9 3595)"><rect width="155" height="20"/><text x="77.5" y="14.5">Fortuny y Marsal Mariano</text></g>
<g id="n218" class="e B" transform="translate(250.9 3620)"><rect width="88" height="20"/><text x="44" y="14.5">Alfred Sisley</text></g>
<g id="n219" class="b B" transform="translate(450.9 3620)"><rect width="96" height="20"/><text x="48" y="14.5">Paul Cezanne</text></g>
<g id="n220" class="p" transform="translate(650.9 3620)"><rect width="133" height="20"/><text x="66.5" y="14.5">Makovskiy Konstantin</text></g>
<g id="n221" class="b B" transform="translate(851 3645)"><rect width="96" height="20"/><text x="48" y="14.5">Claude Monet</text></g>
<g id="n222" class="p B" transform="translate(1051 3645)"><rect width="115" height="20"/><text x="57.5" y="14.5">Alexei Harlamov</text></g>
<g id="n223" class="b B" transform="translate(56.3 3670)"><rect width="148" height="20"/><text x="74" y="14.5">Pierre-Auguste Renoir</text></g>
<g id="n224" class="b" transform="translate(257.2 3670)"><rect width="91" height="20"/><text x="45.5" y="14.5">Berthe Morisot</text></g>
<g id="n225" class="b" transform="translate(457.2 3670)"><rect width="118" height="20"/><text x="59" y="14.5">Armand Guillaumin</text></g>
<g id="n226" class="a" transform="translate(657.2 3670)"><rect width="194" height="20"/><text x="97" y="14.5">Madrazo y Garreta Raimundo de</text></g>
<g id="n227" class="p B" transform="translate(857.2 3696)"><rect width="89" height="20"/><text x="44.5" y="14.5">Arkhip Kuinji</text></g>
<g id="n228" class="p B" transform="translate(1057.2 3696)"><rect width="136" height="20"/><text x="68" y="14.5">Vasily Vereshchagin</text></g>
<g id="n229" class="r" transform="translate(62.5 3696)"><rect width="99" height="20"/><text x="49.5" y="14.5">Giovanni Boldini</text></g>
<g id="n230" class="p" transform="translate(263.4 3721)"><rect width="120" height="20"/><text x="60" y="14.5">Semiradskiy Genrih</text></g>
<g id="n231" class="p B" transform="translate(462.5 3746)"><rect width="71" height="20"/><text x="35.5" y="14.5">Ilya Repin</text></g>
<g id="n232" class="b B" transform="translate(662.5 3746)"><rect width="105" height="20"/><text x="52.5" y="14.5">Henri Rousseau</text></g>
<g id="n233" transform="translate(862.5 3746)"><rect width="88" height="20"/><text x="44" y="14.5">Cassatt, Mary</text></g>
<g id="n234" transform="translate(1062.6 3746)"><rect width="101" height="20"/><text x="50.5" y="14.5">Eakins, Thomas</text></g>
<g id="n235" class="r" transform="translate(68.8 3796)"><rect width="115" height="20"/><text x="57.5" y="14.5">Giuseppe De Nittis</text></g>
<g id="n236" class="o" transform="translate(268.8 3821)"><rect width="103" height="20"/><text x="51.5" y="14.5">Max Liebermann</text></g>
<g id="n237" class="p B" transform="translate(468.8 3846)"><rect width="99" height="20"/><text x="49.5" y="14.5">Vasily Surikov</text></g>
<g id="n238" class="p B" transform="translate(668.8 3846)"><rect width="114" height="20"/><text x="57" y="14.5">Viktor Vasnetsov</text></g>
<g id="n239" class="b B" transform="translate(868.8 3846)"><rect width="94" height="20"/><text x="47" y="14.5">Paul Gauguin</text></g>
<g id="n240" class="b" transform="translate(75 3871)"><rect width="92" height="20"/><text x="46" y="14.5">Albert Lebourg</text></g>
<g id="n241" class="g" transform="translate(275 3871)"><rect width="76" height="20"/><text x="38" y="14.5">Emile Claus</text></g>
<g id="n242" transform="translate(475 3871)"><rect width="132" height="20"/><text x="66" y="14.5">William Merritt Chase</text></g>
<g id="n243" class="a" transform="translate(675 3871)"><rect width="164" height="20"/><text x="82" y="14.5">Pinazo Camarlench Ignacio</text></g>
<g id="n244" class="e B" transform="translate(1068.8 3871)"><rect width="120" height="20"/><text x="60" y="14.5">John Waterhouse</text></g>
<g id="n245" class="b" transform="translate(875 3896)"><rect width="138" height="20"/><text x="69" y="14.5">Jean-Francois Raffaelli</text></g>
<g id="n246" class="b" transform="translate(1074.1 3946)"><rect width="111" height="20"/><text x="55.5" y="14.5">Jean-Louis Forain</text></g>
<g id="n247" class="o B" transform="translate(80.4 3971)"><rect width="120" height="20"/><text x="60" y="14.5">Vincent van Gogh</text></g>
<g id="n248" transform="translate(281.3 3971)"><rect width="143" height="20"/><text x="71.5" y="14.5">John Henry Twachtman</text></g>
<g id="n249" transform="translate(480.4 4021)"><rect width="122" height="20"/><text x="61" y="14.5">Frederick McCubbin</text></g>
<g id="n250" class="b" transform="translate(86.6 4046)"><rect width="78" height="20"/><text x="39" y="14.5">Henry Moret</text></g>
<g id="n251" class="p B" transform="translate(680.4 4046)"><rect width="99" height="20"/><text x="49.5" y="14.5">Mikhail Vrubel</text></g>
<g id="n252" class="B" transform="translate(880.4 4046)"><rect width="139" height="20"/><text x="69.5" y="14.5">John Singer Sargent</text></g>
<g id="n253" class="b" transform="translate(1080.4 4046)"><rect width="127" height="20"/><text x="63.5" y="14.5">Henri Edmond Cross</text></g>
<g id="n254" class="p" transform="translate(286.6 4096)"><rect width="130" height="20"/><text x="65" y="14.5">Krizhickiy Konstantin</text></g>
<g id="n255" transform="translate(485.7 4096)"><rect width="119" height="20"/><text x="59.5" y="14.5">John Peter Russell</text></g>
<g id="n256" class="o" transform="translate(685.7 4096)"><rect width="81" height="20"/><text x="40.5" y="14.5">Lovis Corinth</text></g>
<g id="n257" class="b" transform="translate(885.8 4096)"><rect width="102" height="20"/><text x="51" y="14.5">Maximilien Luce</text></g>
<g id="n258" transform="translate(92.9 4122)"><rect width="153" height="20"/><text x="76.5" y="14.5">Frederick Childe Hassam</text></g>
<g id="n259" class="b" transform="translate(292.9 4122)"><rect width="110" height="20"/><text x="55" y="14.5">Paul Cesar Helleu</text></g>
<g id="n260" class="b B" transform="translate(1086.7 4122)"><rect width="106" height="20"/><text x="53" y="14.5">Georges Seurat</text></g>
<g id="n261" class="p B" transform="translate(492 4147)"><rect width="92" height="20"/><text x="46" y="14.5">Isaac Levitan</text></g>
<g id="n262" class="g" transform="translate(692.9 4147)"><rect width="113" height="20"/><text x="56.5" y="14.5">Alphonse Mucha</text></g>
<g id="n263" class="b" transform="translate(892 4147)"><rect width="77" height="20"/><text x="38.5" y="14.5">Henri Martin</text></g>
<g id="n264" class="p" transform="translate(98.2 4172)"><rect width="115" height="20"/><text x="57.5" y="14.5">Constantin Korovin</text></g>
<g id="n265" class="o" transform="translate(299.1 4172)"><rect width="69" height="20"/><text x="34.5" y="14.5">Lesser Ury</text></g>
<g id="n266" class="b" transform="translate(498.2 4172)"><rect width="96" height="20"/><text x="48" y="14.5">Maxime Maufra</text></g>
<g id="n267" class="b" transform="translate(1092.9 4172)"><rect width="87" height="20"/><text x="43.5" y="14.5">Achille Lauge</text></g>
<g id="n268" class="g" transform="translate(104.5 4197)"><rect width="142" height="20"/><text x="71" y="14.5">Theo van Rysselberghe</text></g>
<g id="n269" class="o B" transform="translate(699.1 4197)"><rect width="87" height="20"/><text x="43.5" y="14.5">Gustav Klimt</text></g>
<g id="n270" class="p" transform="translate(899.2 4197)"><rect width="94" height="20"/><text x="47" y="14.5">Nesterov Mihail</text></g>
<g id="n271" class="b" transform="translate(1099.2 4197)"><rect width="103" height="20"/><text x="51.5" y="14.5">Henri Le Sidaner</text></g>
<g id="n272" class="m" transform="translate(304.5 4222)"><rect width="96" height="20"/><text x="48" y="14.5">Edvard Munch</text></g>
<g id="n273" class="b B" transform="translate(504.5 4222)"><rect width="85" height="20"/><text x="42.5" y="14.5">Paul Signac</text></g>
<g id="n274" class="a" transform="translate(704.5 4222)"><rect width="155" height="20"/><text x="77.5" y="14.5">Joaquin Sorolla y Bastida</text></g>
<g id="n275" class="b" transform="translate(904.5 4222)"><rect width="88" height="20"/><text x="44" y="14.5">Paul Madeline</text></g>
<g id="n276" class="b" transform="translate(110.7 4247)"><rect width="154" height="20"/><text x="77" y="14.5">Ferdinand du Puigaudeau</text></g>
<g id="n277" class="b B" transform="translate(1104.5 4247)"><rect width="176" height="20"/><text x="88" y="14.5">Henri de Toulouse-Lautrec</text></g>
<g id="n278" class="b B" transform="translate(310.7 4272)"><rect width="107" height="20"/><text x="53.5" y="14.5">Henri Lebasque</text></g>
<g id="n279" class="p B" transform="translate(510.7 4272)"><rect width="104" height="20"/><text x="52" y="14.5">Valentin Serov</text></g>
<g id="n280" transform="translate(710.7 4272)"><rect width="130" height="20"/><text x="65" y="14.5">Emanuel Phillips Fox</text></g>
<g id="n281" class="b" transform="translate(910.7 4272)"><rect width="103" height="20"/><text x="51.5" y="14.5">Gustave Loiseau</text></g>
<g id="n282" class="o" transform="translate(117 4297)"><rect width="106" height="20"/><text x="53" y="14.5">Karl Albert Buehr</text></g>
<g id="n283" class="p B" transform="translate(1110.7 4297)"><rect width="123" height="20"/><text x="61.5" y="14.5">Vasiliy Kandinskiy</text></g>
<g id="n284" transform="translate(317 4322)"><rect width="96" height="20"/><text x="48" y="14.5">Arthur Streeton</text></g>
<g id="n285" class="b" transform="translate(517 4322)"><rect width="96" height="20"/><text x="48" y="14.5">Bonnard, Pierre</text></g>
<g id="n286" class="p" transform="translate(717 4347)"><rect width="156" height="20"/><text x="78" y="14.5">Bogdanov-Belskiy Nikolay</text></g>
<g id="n287" class="p" transform="translate(123.2 4372)"><rect width="166" height="20"/><text x="83" y="14.5">Vladimirov Ivan Alekseevich</text></g>
<g id="n288" class="b" transform="translate(323.2 4372)"><rect width="80" height="20"/><text x="40" y="14.5">Albert Andre</text></g>
<g id="n289" class="p B" transform="translate(917 4372)"><rect width="127" height="20"/><text x="63.5" y="14.5">Sergei Vinogradov</text></g>
<g id="n290" class="b B" transform="translate(1117 4372)"><rect width="92" height="20"/><text x="46" y="14.5">Henri Matisse</text></g>
<g id="n291" class="p B" transform="translate(523.2 4397)"><rect width="153" height="20"/><text x="76.5" y="14.5">Victor Borisov-Musatov</text></g>
<g id="n292" class="p B" transform="translate(723.2 4397)"><rect width="121" height="20"/><text x="60.5" y="14.5">Alexandre Benois</text></g>
<g id="n293" class="b" transform="translate(923.3 4397)"><rect width="125" height="20"/><text x="62.5" y="14.5">Georges d'Espagnat</text></g>
<g id="n294" class="g" transform="translate(129.5 4422)"><rect width="105" height="20"/><text x="52.5" y="14.5">Kupka, Frantisek</text></g>
<g id="n295" class="r" transform="translate(1123.3 4422)"><rect width="95" height="20"/><text x="47.5" y="14.5">Balla, Giacomo</text></g>
<g id="n296" class="o B" transform="translate(329.5 4447)"><rect width="95" height="20"/><text x="47.5" y="14.5">Piet Mondrian</text></g>
<g id="n297" class="b" transform="translate(528.6 4447)"><rect width="98" height="20"/><text x="49" y="14.5">Gustave Chariot</text></g>
<g id="n298" class="p B" transform="translate(728.6 4497)"><rect width="113" height="20"/><text x="56.5" y="14.5">Nicholas Roerich</text></g>
<g id="n299" transform="translate(928.6 4497)"><rect width="142" height="20"/><text x="71" y="14.5">Frederick Carl Frieseke</text></g>
<g id="n300" class="b" transform="translate(1128.6 4497)"><rect width="146" height="20"/><text x="73" y="14.5">Pierre-Eugene Montezin</text></g>
<g id="n301" class="p B" transform="translate(134.8 4523)"><rect width="109" height="20"/><text x="54.5" y="14.5">Konstantin Yuon</text></g>
<g id="n302" transform="translate(334.8 4523)"><rect width="93" height="20"/><text x="46.5" y="14.5">Edward Cucuel</text></g>
<g id="n303" class="g B" transform="translate(534.8 4523)"><rect width="216" height="20"/><text x="108" y="14.5">Mikalojus Konstantinas Ciurlionis</text></g>
<g id="n304" class="p" transform="translate(734 4548)"><rect width="126" height="20"/><text x="63" y="14.5">Constantin Gorbatov</text></g>
<g id="n305" transform="translate(934 4548)"><rect width="155" height="20"/><text x="77.5" y="14.5">Edmund William Greacen</text></g>
<g id="n306" class="a" transform="translate(1134 4548)"><rect width="176" height="20"/><text x="88" y="14.5">Beruete y Moret Aureliano de</text></g>
<g id="n307" transform="translate(141.1 4573)"><rect width="88" height="20"/><text x="44" y="14.5">Stella, Joseph</text></g>
<g id="n308" class="p B" transform="translate(341.1 4598)"><rect width="143" height="20"/><text x="71.5" y="14.5">Kuzma Petrov-Vodkin</text></g>
<g id="n309" class="p B" transform="translate(541.1 4598)"><rect width="106" height="20"/><text x="53" y="14.5">Boris Kustodiev</text></g>
<g id="n310" class="e" transform="translate(741.1 4598)"><rect width="143" height="20"/><text x="71.5" y="14.5">Alfred James Munnings</text></g>
<g id="n311" class="b" transform="translate(147.3 4623)"><rect width="96" height="20"/><text x="48" y="14.5">Francis Picabia</text></g>
<g id="n312" class="p B" transform="translate(941.1 4623)"><rect width="117" height="20"/><text x="58.5" y="14.5">Kazimir Malevich</text></g>
<g id="n313" class="o B" transform="translate(1141.1 4623)"><rect width="69" height="20"/><text x="34.5" y="14.5">Paul Klee</text></g>
<g id="n314" class="o" transform="translate(152.7 4648)"><rect width="77" height="20"/><text x="38.5" y="14.5">Marc, Franz</text></g>
<g id="n315" class="g B" transform="translate(347.3 4648)"><rect width="105" height="20"/><text x="52.5" y="14.5">Martiros Saryan</text></g>
<g id="n316" transform="translate(546.5 4648)"><rect width="87" height="20"/><text x="43.5" y="14.5">Daniel Garber</text></g>
<g id="n317" class="b" transform="translate(746.5 4648)"><rect width="121" height="20"/><text x="60.5" y="14.5">Derain, Andre Louis</text></g>
<g id="n318" class="o" transform="translate(946.5 4648)"><rect width="135" height="20"/><text x="67.5" y="14.5">Ernst Ludwig Kirchner</text></g>
<g id="n319" transform="translate(1146.5 4648)"><rect width="96" height="20"/><text x="48" y="14.5">Hofmann, Hans</text></g>
<g id="n320" class="a B" transform="translate(352.7 4673)"><rect width="96" height="20"/><text x="48" y="14.5">Pablo Picasso</text></g>
<g id="n321" class="g" transform="translate(552.7 4673)"><rect width="88" height="20"/><text x="44" y="14.5">Leon De Smet</text></g>
<g id="n322" class="b B" transform="translate(752.7 4673)"><rect width="105" height="20"/><text x="52.5" y="14.5">Leger, Fernand</text></g>
<g id="n323" class="b" transform="translate(952.7 4673)"><rect width="93" height="20"/><text x="46.5" y="14.5">Gleizes, Albert</text></g>
<g id="n324" transform="translate(1151.9 4673)"><rect width="123" height="20"/><text x="61.5" y="14.5">Patrick Henry Bruce</text></g>
<g id="n325" class="B" transform="translate(158.9 4698)"><rect width="98" height="20"/><text x="49" y="14.5">Rockwell Kent</text></g>
<g id="n326" transform="translate(358.9 4698)"><rect width="82" height="20"/><text x="41" y="14.5">Elioth Gruner</text></g>
<g id="n327" class="r B" transform="translate(559 4698)"><rect width="123" height="20"/><text x="61.5" y="14.5">Boccioni, Umberto</text></g>
<g id="n328" class="B" transform="translate(759 4698)"><rect width="105" height="20"/><text x="52.5" y="14.5">Edward Hopper</text></g>
<g id="n329" transform="translate(958.1 4698)"><rect width="150" height="20"/><text x="75" y="14.5">Bellows, George Wesley</text></g>
<g id="n330" transform="translate(164.3 4723)"><rect width="134" height="20"/><text x="67" y="14.5">Guy Carleton Wiggins</text></g>
<g id="n331" transform="translate(365.2 4723)"><rect width="103" height="20"/><text x="51.5" y="14.5">Demuth, Charles</text></g>
<g id="n332" class="b" transform="translate(565.2 4723)"><rect width="97" height="20"/><text x="48.5" y="14.5">Jean Metzinger</text></g>
<g id="n333" class="o" transform="translate(765.2 4723)"><rect width="124" height="20"/><text x="62" y="14.5">Theos van Doesburg</text></g>
<g id="n334" class="p B" transform="translate(1159 4723)"><rect width="96" height="20"/><text x="48" y="14.5">Pavel Filonov</text></g>
<g id="n335" class="o" transform="translate(170.5 4748)"><rect width="97" height="20"/><text x="48.5" y="14.5">Max Beckmann</text></g>
<g id="n336" class="r B" transform="translate(964.3 4748)"><rect width="132" height="20"/><text x="66" y="14.5">Amedeo Modigliani</text></g>
<g id="n337" class="p B" transform="translate(1164.4 4748)"><rect width="144" height="20"/><text x="72" y="14.5">Zinaida Serebriakova</text></g>
<g id="n338" class="b" transform="translate(370.6 4773)"><rect width="106" height="20"/><text x="53" y="14.5">Delaunay, Robert</text></g>
<g id="n339" class="B" transform="translate(570.6 4798)"><rect width="88" height="20"/><text x="44" y="14.5">Diego Rivera</text></g>
<g id="n340" transform="translate(770.6 4798)"><rect width="101" height="20"/><text x="50.5" y="14.5">Russell, Morgan</text></g>
<g id="n341" class="o B" transform="translate(176.8 4823)"><rect width="99" height="20"/><text x="49.5" y="14.5">Macke, August</text></g>
<g id="n342" class="b B" transform="translate(970.6 4823)"><rect width="90" height="20"/><text x="45" y="14.5">Marc Chagall</text></g>
<g id="n343" class="b B" transform="translate(1170.6 4823)"><rect width="118" height="20"/><text x="59" y="14.5">Duchamp, Marcel</text></g>
<g id="n344" class="b" transform="translate(376.8 4848)"><rect width="66" height="20"/><text x="33" y="14.5">Louis Icart</text></g>
<g id="n345" class="o" transform="translate(576.8 4848)"><rect width="95" height="20"/><text x="47.5" y="14.5">Albers, Joseph</text></g>
<g id="n346" class="r" transform="translate(776.8 4848)"><rect width="115" height="20"/><text x="57.5" y="14.5">Chirico, Giorgio De</text></g>
<g id="n347" class="b" transform="translate(976 4873)"><rect width="87" height="20"/><text x="43.5" y="14.5">Lucien Adrion</text></g>
<g id="n348" transform="translate(1176.9 4873)"><rect width="130" height="20"/><text x="65" y="14.5">Benton, Thomas Hart</text></g>
<g id="n349" class="o B" transform="translate(182.2 4898)"><rect width="92" height="20"/><text x="46" y="14.5">Egon Schiele</text></g>
<g id="n350" transform="translate(382.2 4898)"><rect width="91" height="20"/><text x="45.5" y="14.5">Penleigh Boyd</text></g>
<g id="n351" transform="translate(582.2 4898)"><rect width="123" height="20"/><text x="61.5" y="14.5">Macdonald, Stanton</text></g>
<g id="n352" class="r" transform="translate(782.2 4898)"><rect width="102" height="20"/><text x="51" y="14.5">Morandi, Giorgio</text></g>
<g id="n353" transform="translate(982.2 4898)"><rect width="79" height="20"/><text x="39.5" y="14.5">Tobey, Mark</text></g>
<g id="n354" class="o" transform="translate(188.4 4923)"><rect width="71" height="20"/><text x="35.5" y="14.5">Ernst, Max</text></g>
<g id="n355" class="B" transform="translate(1182.2 4923)"><rect width="89" height="20"/><text x="44.5" y="14.5">Wood, Grant</text></g>
<g id="n356" transform="translate(388.4 4949)"><rect width="80" height="20"/><text x="40" y="14.5">Davis, Stuart</text></g>
<g id="n357" class="a B" transform="translate(588.4 4974)"><rect width="71" height="20"/><text x="35.5" y="14.5">Joan Miro</text></g>
<g id="n358" class="p" transform="translate(788.4 4974)"><rect width="93" height="20"/><text x="46.5" y="14.5">Chaim Soutine</text></g>
<g id="n359" class="o" transform="translate(988.4 4974)"><rect width="92" height="20"/><text x="46" y="14.5">Grosz, George</text></g>
<g id="n360" transform="translate(1188.5 5049)"><rect width="137" height="20"/><text x="68.5" y="14.5">Siqueiros, David Alfaro</text></g>
<g id="n361" class="g B" transform="translate(194.6 5099)"><rect width="96" height="20"/><text x="48" y="14.5">Rene Magritte</text></g>
<g id="n362" class="p" transform="translate(393.8 5099)"><rect width="120" height="20"/><text x="60" y="14.5">Grigory Gluckmann</text></g>
<g id="n363" class="o B" transform="translate(594.7 5099)"><rect width="78" height="20"/><text x="39" y="14.5">M.C.Escher</text></g>
<g id="n364" transform="translate(794.7 5099)"><rect width="105" height="20"/><text x="52.5" y="14.5">Feitelson, Lorser</text></g>
<g id="n365" class="p B" transform="translate(994.7 5124)"><rect width="130" height="20"/><text x="65" y="14.5">Aleksandr Deyneka</text></g>
<g id="n366" class="b" transform="translate(1194.7 5124)"><rect width="71" height="20"/><text x="35.5" y="14.5">Marcel Dyf</text></g>
<g id="n367" class="b" transform="translate(200.9 5150)"><rect width="84" height="20"/><text x="42" y="14.5">Tanguy, Yves</text></g>
<g id="n368" transform="translate(400.9 5170)"><rect width="84" height="20"/><text x="42" y="14.5">Rothko, Mark</text></g>
<g id="n369" class="a B" transform="translate(600 5178)"><rect width="92" height="20"/><text x="46" y="14.5">Salvador Dali</text></g>
<g id="n370" class="o B" transform="translate(800.9 5178)"><rect width="134" height="20"/><text x="67" y="14.5">Kooning, Willem De</text></g>
<g id="n371" transform="translate(1000 5178)"><rect width="90" height="20"/><text x="45" y="14.5">Gorky, Arshile</text></g>
<g id="n372" transform="translate(1201 5184)"><rect width="105" height="20"/><text x="52.5" y="14.5">Newman, Barnett</text></g>
<g id="n373" class="B" transform="translate(206.3 5198)"><rect width="81" height="20"/><text x="40.5" y="14.5">Frida Kahlo</text></g>
<g id="n374" transform="translate(406.3 5198)"><rect width="94" height="20"/><text x="47" y="14.5">Porter, Fairfield</text></g>
<g id="n375" class="g" transform="translate(607.2 5205)"><rect width="51" height="20"/><text x="25.5" y="14.5">Balthus</text></g>
<g id="n376" class="b" transform="translate(806.3 5212)"><rect width="106" height="20"/><text x="53" y="14.5">Andre Hambourg</text></g>
<g id="n377" class="e B" transform="translate(1006.3 5212)"><rect width="102" height="20"/><text x="51" y="14.5">Bacon, Francis</text></g>
<g id="n378" class="g" transform="translate(212.5 5233)"><rect width="84" height="20"/><text x="42" y="14.5">Francois Gall</text></g>
<g id="n379" transform="translate(412.5 5233)"><rect width="81" height="20"/><text x="40.5" y="14.5">Louis, Morris</text></g>
<g id="n380" transform="translate(612.5 5233)"><rect width="88" height="20"/><text x="44" y="14.5">Martin, Agnes</text></g>
<g id="n381" class="B" transform="translate(1207.2 5233)"><rect width="111" height="20"/><text x="55.5" y="14.5">Jackson Pollock</text></g>
<g id="n382" transform="translate(812.5 5240)"><rect width="89" height="20"/><text x="44.5" y="14.5">Guston, Philip</text></g>
<g id="n383" class="B" transform="translate(1012.5 5268)"><rect width="101" height="20"/><text x="50.5" y="14.5">Andrew Wyeth</text></g>
<g id="n384" transform="translate(1212.5 5289)"><rect width="77" height="20"/><text x="38.5" y="14.5">Davis, Gene</text></g>
<g id="n385" class="e B" transform="translate(218.8 5303)"><rect width="90" height="20"/><text x="45" y="14.5">Lucian Freud</text></g>
<g id="n386" transform="translate(418.8 5303)"><rect width="120" height="20"/><text x="60" y="14.5">Richard Diebenkorn</text></g>
<g id="n387" class="B" transform="translate(618.8 5310)"><rect width="116" height="20"/><text x="58" y="14.5">Lichtenstein, Roy</text></g>
<g id="n388" transform="translate(818.8 5317)"><rect width="103" height="20"/><text x="51.5" y="14.5">Noland, Kenneth</text></g>
<g id="n389" transform="translate(1018.8 5324)"><rect width="88" height="20"/><text x="44" y="14.5">Karl Benjamin</text></g>
<g id="n390" transform="translate(1218.8 5324)"><rect width="131" height="20"/><text x="65.5" y="14.5">Robert Rauschenberg</text></g>
<g id="n391" class="e" transform="translate(225 5331)"><rect width="74" height="20"/><text x="37" y="14.5">Cook, Beryl</text></g>
<g id="n392" class="B" transform="translate(425 5345)"><rect width="89" height="20"/><text x="44.5" y="14.5">Andy Warhol</text></g>
<g id="n393" transform="translate(625 5345)"><rect width="126" height="20"/><text x="63" y="14.5">Frankenthaler, Helen</text></g>
<g id="n394" class="B" transform="translate(825 5359)"><rect width="91" height="20"/><text x="45.5" y="14.5">Jasper Johns</text></g>
<g id="n395" class="e" transform="translate(1025 5366)"><rect width="84" height="20"/><text x="42" y="14.5">Riley, Bridget</text></g>
<g id="n396" class="o B" transform="translate(1225 5373)"><rect width="111" height="20"/><text x="55.5" y="14.5">Richter, Gerhard</text></g>
<g id="n397" transform="translate(231.3 5373)"><rect width="92" height="20"/><text x="46" y="14.5">Estes, Richard</text></g>
<g id="n398" class="e" transform="translate(431.3 5387)"><rect width="88" height="20"/><text x="44" y="14.5">Hoyland, John</text></g>
<g id="n399" transform="translate(631.3 5401)"><rect width="80" height="20"/><text x="40" y="14.5">Stella, Frank</text></g>
<g id="n400" transform="translate(831.3 5408)"><rect width="85" height="20"/><text x="42.5" y="14.5">Davis, Ronald</text></g>
<g id="n401" transform="translate(1031.3 5408)"><rect width="101" height="20"/><text x="50.5" y="14.5">Mangold, Robert</text></g>
<g id="n402" transform="translate(1231.3 5415)"><rect width="87" height="20"/><text x="43.5" y="14.5">Marden, Brice</text></g>
<g id="n403" transform="translate(36.6 5436)"><rect width="76" height="20"/><text x="38" y="14.5">Seery, John</text></g>
<g id="n404" class="o" transform="translate(236.6 5464)"><rect width="107" height="20"/><text x="53.5" y="14.5">Peter Angermann</text></g>
<g id="n405" transform="translate(436.6 5471)"><rect width="85" height="20"/><text x="42.5" y="14.5">Kevin Larmee</text></g>
<g id="n406" transform="translate(636.6 5478)"><rect width="105" height="20"/><text x="52.5" y="14.5">Landfield, Ronnie</text></g>
<g id="n407" class="p" transform="translate(836.6 5499)"><rect width="130" height="20"/><text x="65" y="14.5">Averyanov Aleksandr</text></g>
<g id="n408" class="p" transform="translate(1036.6 5541)"><rect width="105" height="20"/><text x="52.5" y="14.5">Olshanskiy Boris</text></g>
<g id="n409" transform="translate(42.9 5541)"><rect width="88" height="20"/><text x="44" y="14.5">Cecil Touchon</text></g>
<g id="n410" class="B" transform="translate(242.9 5569)"><rect width="145" height="20"/><text x="72.5" y="14.5">Jean-Michel Basquiat</text></g>
<g id="n411" class="p" transform="translate(442.9 5583)"><rect width="171" height="20"/><text x="85.5" y="14.5">Belyukin Dmitriy Anatolevich</text></g>
<g id="n412" class="p" transform="translate(642.9 5611)"><rect width="107" height="20"/><text x="53.5" y="14.5">Afonin Aleksandr</text></g>
<g id="n413" class="p" transform="translate(842.9 5611)"><rect width="96" height="20"/><text x="48" y="14.5">Anohin Nikolay</text></g>
<g id="n414" class="p" transform="translate(1042.9 5618)"><rect width="170" height="20"/><text x="85" y="14.5">Nesterenko Vasiliy Igorevich</text></g>
<g id="n415" class="p" transform="translate(49.1 5646)"><rect width="88" height="20"/><text x="44" y="14.5">Matorin Viktor</text></g>
<g id="n416" class="p" transform="translate(249.1 5688)"><rect width="104" height="20"/><text x="52" y="14.5">Zyablov Yaroslav</text></g>
</g>
<text class="ft" x="1384" y="6210">This timeline was created by Alexey Arkhipenko (c) 2016</text>
</g>
</svg>
